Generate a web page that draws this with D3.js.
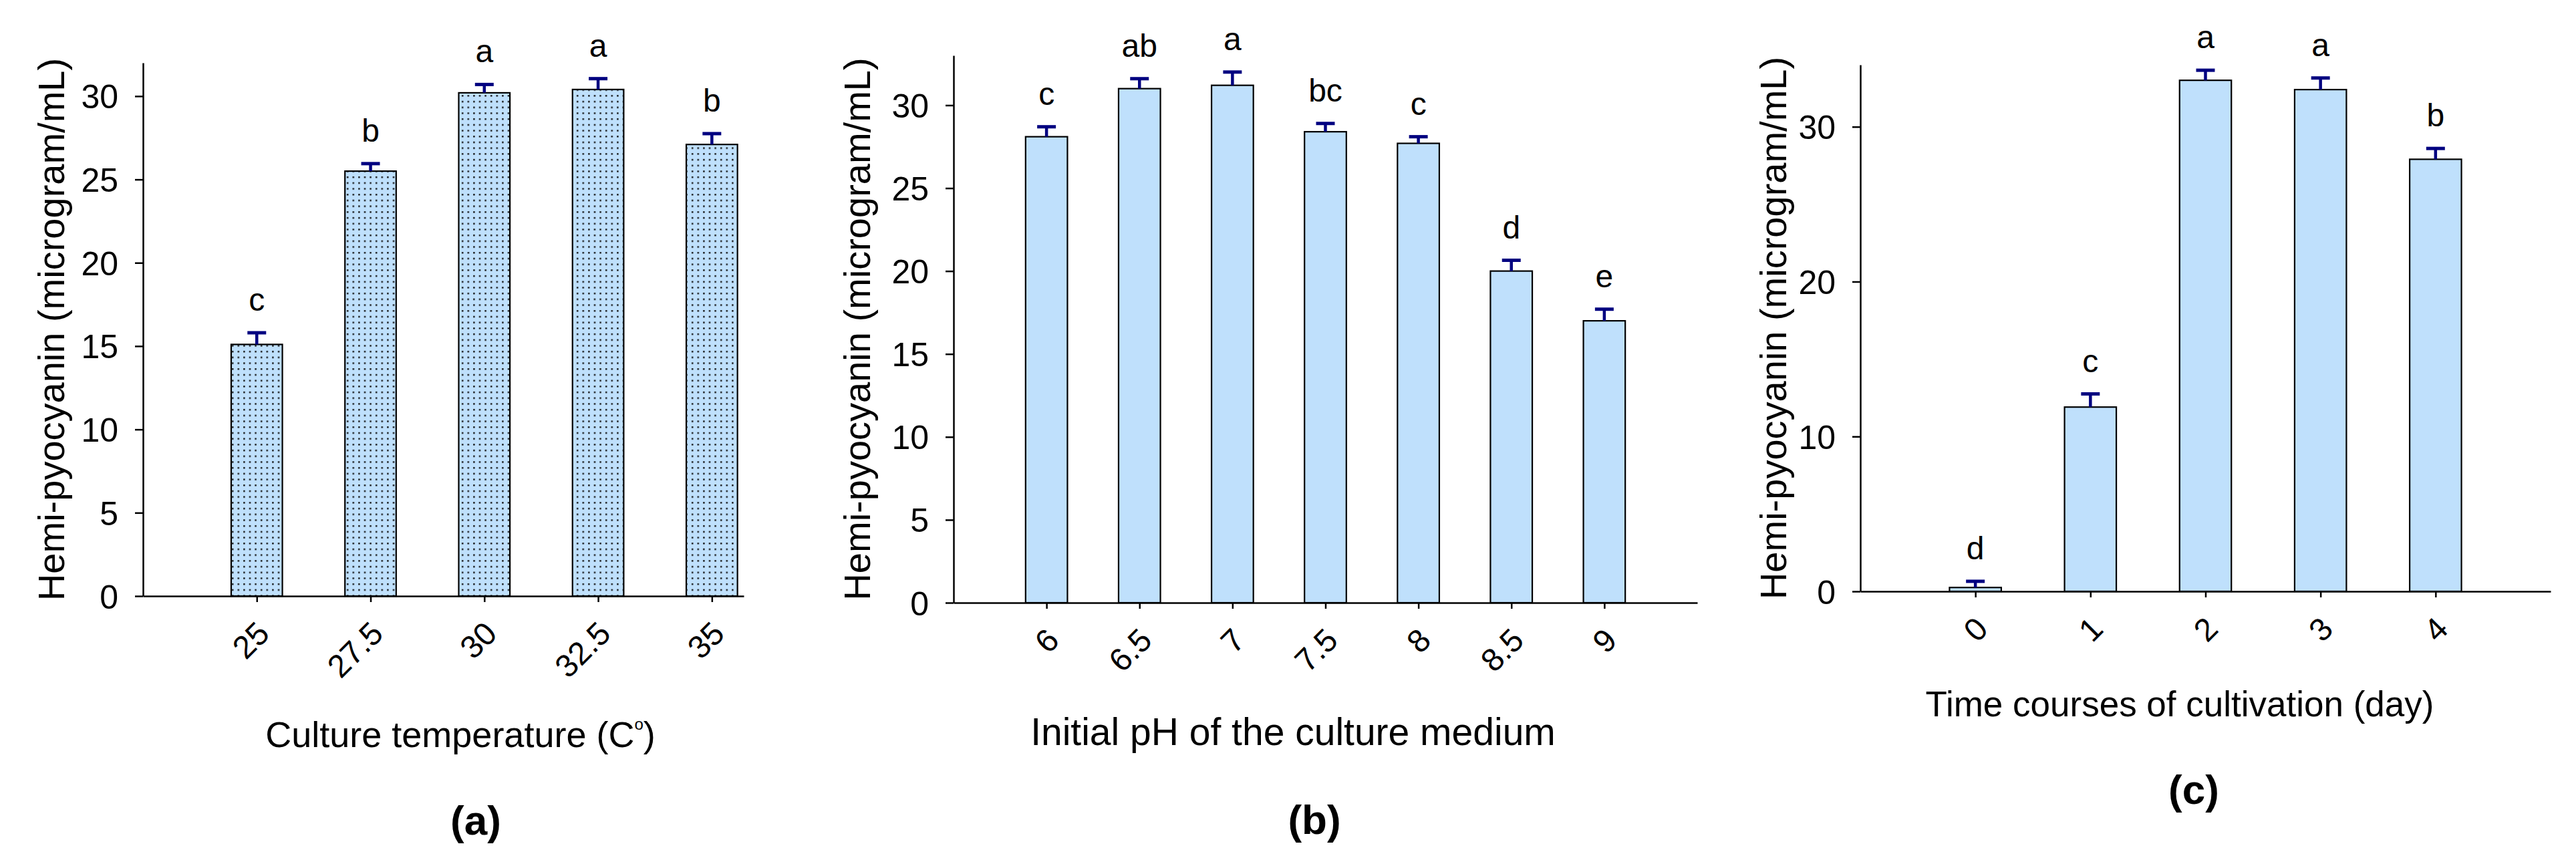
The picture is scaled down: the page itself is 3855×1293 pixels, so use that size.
<!DOCTYPE html>
<html>
<head>
<meta charset="utf-8">
<script src="https://cdn.jsdelivr.net/npm/d3@7"></script>
<style>
  body { margin: 0; background: #fff; }
  svg text { font-family: "Liberation Sans", Arial, sans-serif; fill: #000; }
</style>
</head>
<body>
<svg id="chart" width="3855" height="1293"></svg>
<script>
// ***** Data *****
const tempCategories = ["25", "27.5", "30", "32.5", "35"];
const tempValues = [15.1, 25.5, 30.2, 30.4, 27.1];
const tempErrors = [0.7, 0.45, 0.5, 0.65, 0.65];
const tempLetters = ["c", "b", "a", "a", "b"];

const phCategories = ["6", "6.5", "7", "7.5", "8", "8.5", "9"];
const phValues = [28.1, 31.0, 31.2, 28.4, 27.7, 20.0, 17.0];
const phErrors = [0.6, 0.6, 0.8, 0.5, 0.4, 0.65, 0.7];
const phLetters = ["c", "ab", "a", "bc", "c", "d", "e"];

const dayCategories = ["0", "1", "2", "3", "4"];
const dayValues = [0.25, 11.9, 33.0, 32.4, 27.9];
const dayErrors = [0.4, 0.85, 0.65, 0.75, 0.7];
const dayLetters = ["d", "c", "a", "a", "b"];

const yTicksFive = [0, 5, 10, 15, 20, 25, 30];
const yTicksTen = [0, 10, 20, 30];

const yTitle = "Hemi-pyocyanin (microgram/mL)";

const svg = d3.select("#chart");
svg.append("rect").attr("width", 3855).attr("height", 1293).attr("fill", "#fff");

const barColor = "#bfe0fc";
const errColor = "#000080";

// dotted fill for panel (a)
const defs = svg.append("defs");
const dots = defs.append("pattern")
  .attr("id", "dots")
  .attr("patternUnits", "userSpaceOnUse")
  .attr("width", 8.6)
  .attr("height", 8.7);
dots.append("rect").attr("width", 8.6).attr("height", 8.7).attr("fill", barColor);
dots.append("rect").attr("x", 3).attr("y", 3).attr("width", 2.4).attr("height", 2.4).attr("fill", "#111");

// ***** Draw one panel *****
function drawPanel(p) {
  const g = svg.append("g");
  const n = p.categories.length;

  const x = d3.scaleLinear().domain([-1, p.xEnd]).range([p.x0, p.x1]);
  const y = d3.scaleLinear().domain([0, p.yMax]).range([p.y0, p.yTop]);
  const step = x(1) - x(0);
  const bw = step * 0.45;

  const data = p.categories.map(function(c, i) {
    return { cat: c, i: i, v: p.values[i], e: p.errors[i], letter: p.letters[i] };
  });

  // bars
  g.selectAll(".bar")
    .data(data)
    .enter()
    .append("rect")
    .attr("class", "bar")
    .attr("x", d => x(d.i) - bw / 2)
    .attr("y", d => y(d.v))
    .attr("width", bw)
    .attr("height", d => y(0) - y(d.v))
    .attr("fill", p.fill)
    .attr("stroke", "#000")
    .attr("stroke-width", 2.2);

  // error bars (upper only)
  const eb = g.selectAll(".err").data(data).enter().append("g").attr("class", "err");
  eb.append("line")
    .attr("x1", d => x(d.i)).attr("x2", d => x(d.i))
    .attr("y1", d => y(d.v)).attr("y2", d => y(d.v + d.e))
    .attr("stroke", errColor).attr("stroke-width", 4.5);
  eb.append("line")
    .attr("x1", d => x(d.i) - 14).attr("x2", d => x(d.i) + 14)
    .attr("y1", d => y(d.v + d.e)).attr("y2", d => y(d.v + d.e))
    .attr("stroke", errColor).attr("stroke-width", 5);

  // significance letters
  g.selectAll(".letter")
    .data(data)
    .enter()
    .append("text")
    .attr("class", "letter")
    .attr("x", d => x(d.i))
    .attr("y", d => y(d.v + d.e) - 33)
    .attr("text-anchor", "middle")
    .style("font-size", "48px")
    .text(d => d.letter);

  // y axis
  const yAxis = g.append("g")
    .attr("transform", "translate(" + p.x0 + ",0)")
    .call(d3.axisLeft(y).tickValues(p.yTicks).tickSize(12).tickSizeOuter(0).tickPadding(25));
  yAxis.select(".domain").attr("stroke", "#000").attr("stroke-width", 2.5);
  yAxis.selectAll(".tick line").attr("stroke", "#000").attr("stroke-width", 2.5);
  yAxis.selectAll(".tick text")
    .attr("font-family", null)
    .style("font-size", "50px")
    .attr("dy", "0.36em");

  // x axis
  const xAxis = g.append("g")
    .attr("transform", "translate(0," + p.y0 + ")")
    .call(d3.axisBottom(x)
      .tickValues(d3.range(n))
      .tickFormat(i => p.categories[i])
      .tickSize(9)
      .tickSizeOuter(0));
  xAxis.select(".domain").attr("stroke", "#000").attr("stroke-width", 2.5);
  xAxis.selectAll(".tick line").attr("stroke", "#000").attr("stroke-width", 2.5);
  xAxis.selectAll(".tick text")
    .attr("font-family", null)
    .style("font-size", "48px")
    .attr("y", null)
    .attr("dy", null)
    .attr("text-anchor", "end")
    .attr("transform", "translate(21,59) rotate(-45)");

  // y title
  g.append("text")
    .attr("transform", "translate(" + p.yTitleX + "," + ((p.y0 + p.yTop) / 2) + ") rotate(-90)")
    .attr("text-anchor", "middle")
    .style("font-size", "56px")
    .text(yTitle);

  // x title
  const xt = g.append("text")
    .attr("x", p.xTitleX)
    .attr("y", p.xTitleY)
    .attr("text-anchor", "middle")
    .style("font-size", p.xTitleSize + "px");
  xt.append("tspan").text(p.xTitle);
  if (p.degree) {
    xt.append("tspan").attr("dy", -26).style("font-size", "24px").text("o");
    xt.append("tspan").attr("dy", 26).text(")");
  }

  // panel letter
  g.append("text")
    .attr("x", p.tagX)
    .attr("y", p.tagY)
    .attr("text-anchor", "middle")
    .style("font-size", "62px")
    .style("font-weight", "bold")
    .text(p.tag);
}

drawPanel({
  categories: tempCategories, values: tempValues, errors: tempErrors, letters: tempLetters,
  yTicks: yTicksFive, yMax: 32, xEnd: 4.28,
  x0: 214, x1: 1113, y0: 892, yTop: 94,
  fill: "url(#dots)",
  yTitleX: 96,
  xTitle: "Culture temperature (C", degree: true, xTitleSize: 54, xTitleX: 689, xTitleY: 1118,
  tag: "(a)", tagX: 712, tagY: 1249
});

drawPanel({
  categories: phCategories, values: phValues, errors: phErrors, letters: phLetters,
  yTicks: yTicksFive, yMax: 33, xEnd: 7,
  x0: 1427, x1: 2540, y0: 902, yTop: 83,
  fill: barColor,
  yTitleX: 1302,
  xTitle: "Initial pH of the culture medium", degree: false, xTitleSize: 57, xTitleX: 1935, xTitleY: 1115,
  tag: "(b)", tagX: 1967, tagY: 1248
});

drawPanel({
  categories: dayCategories, values: dayValues, errors: dayErrors, letters: dayLetters,
  yTicks: yTicksTen, yMax: 34, xEnd: 5,
  x0: 2784, x1: 3817, y0: 885, yTop: 97,
  fill: barColor,
  yTitleX: 2673,
  xTitle: "Time courses of cultivation (day)", degree: false, xTitleSize: 53, xTitleX: 3262, xTitleY: 1072,
  tag: "(c)", tagX: 3283, tagY: 1203
});
</script>
</body>
</html>
